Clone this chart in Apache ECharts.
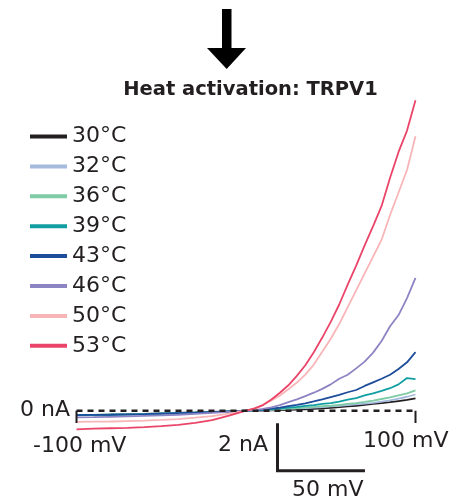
<!DOCTYPE html>
<html>
<head>
<meta charset="utf-8">
<script src="https://cdn.jsdelivr.net/npm/echarts@6/dist/echarts.min.js"></script>
<style>
  html, body { margin: 0; padding: 0; background: #fff; }
  #chart { width: 461px; height: 497px; }
</style>
</head>
<body>
<div id="chart"></div>
<script>
// voltage steps (mV)
const voltage = [-100, -90, -80, -70, -60, -50, -40, -30, -20, -10, 0,
  5, 10, 15, 20, 25, 30, 35, 40, 45, 50, 55, 60, 65, 70, 75, 80, 85, 90, 95, 100];

// current (nA) per temperature
const c30 = [-0.20, -0.19, -0.17, -0.16, -0.14, -0.12, -0.10, -0.08, -0.05, -0.03, 0,
  0.01, 0.01, 0.02, 0.03, 0.04, 0.05, 0.06, 0.08, 0.10, 0.13, 0.16, 0.19, 0.22, 0.26, 0.30, 0.34, 0.38, 0.43, 0.48, 0.55];
const c32 = [-0.20, -0.19, -0.18, -0.16, -0.14, -0.12, -0.10, -0.08, -0.06, -0.03, 0,
  0.01, 0.02, 0.04, 0.06, 0.08, 0.10, 0.12, 0.14, 0.16, 0.19, 0.22, 0.25, 0.28, 0.31, 0.35, 0.40, 0.46, 0.54, 0.62, 0.72];
const c36 = [-0.21, -0.20, -0.18, -0.16, -0.15, -0.13, -0.11, -0.08, -0.06, -0.03, 0,
  0.01, 0.03, 0.05, 0.07, 0.09, 0.12, 0.15, 0.17, 0.20, 0.22, 0.26, 0.30, 0.34, 0.39, 0.45, 0.52, 0.59, 0.68, 0.77, 0.90];
const c39 = [-0.20, -0.19, -0.18, -0.17, -0.15, -0.13, -0.11, -0.09, -0.06, -0.03, 0,
  0.02, 0.04, 0.07, 0.10, 0.14, 0.17, 0.21, 0.25, 0.30, 0.34, 0.40, 0.49, 0.56, 0.68, 0.77, 0.88, 1.00, 1.17, 1.45, 1.40];
const c43 = [-0.20, -0.19, -0.18, -0.16, -0.15, -0.13, -0.11, -0.09, -0.06, -0.03, 0,
  0.02, 0.05, 0.09, 0.14, 0.20, 0.26, 0.33, 0.41, 0.50, 0.60, 0.70, 0.82, 0.92, 1.10, 1.26, 1.42, 1.60, 1.85, 2.15, 2.60];
const c46 = [-0.30, -0.29, -0.27, -0.25, -0.23, -0.21, -0.18, -0.14, -0.10, -0.05, 0,
  0.03, 0.08, 0.15, 0.25, 0.38, 0.50, 0.65, 0.80, 0.97, 1.17, 1.42, 1.60, 1.88, 2.18, 2.58, 3.10, 3.75, 4.25, 5.00, 5.90];
const c50 = [-0.50, -0.49, -0.48, -0.46, -0.44, -0.41, -0.37, -0.31, -0.24, -0.13, 0,
  0.08, 0.25, 0.45, 0.68, 0.95, 1.25, 1.60, 2.05, 2.62, 3.20, 3.85, 4.60, 5.35, 6.10, 6.85, 7.60, 8.70, 9.70, 10.70, 12.20];
const c53 = [-0.83, -0.80, -0.78, -0.76, -0.73, -0.69, -0.63, -0.54, -0.42, -0.22, 0,
  0.10, 0.25, 0.50, 0.80, 1.13, 1.55, 2.02, 2.60, 3.25, 3.95, 4.72, 5.60, 6.45, 7.35, 8.20, 9.10, 10.35, 11.50, 12.45, 13.80];

const tempNames = ['30°C', '32°C', '36°C', '39°C', '43°C', '46°C', '50°C', '53°C'];
const tempCurves = [c30, c32, c36, c39, c43, c46, c50, c53];
const tempColors = ['#231f20', '#a4bbde', '#7ecba5', '#109ea2', '#1d4c9b', '#8d85c3', '#f8b5b7', '#ea4469'];

// zero-current reference, end ticks and scale bar (mV, nA)
const zeroX = [-100, 100];
const zeroY = [0, 0];
const tickLen = -0.55;
const barX = [18.6, 18.6, 69.3];
const barY = [-0.62, -2.67, -2.67];

const font = 'DejaVu Sans';
const ink = '#231f20';

const pairs = (xs, ys) => xs.map((x, i) => [x, ys[i]]);

const series = tempNames.map((name, i) => ({
  name: name,
  type: 'line',
  data: pairs(voltage, tempCurves[i]),
  showSymbol: false,
  smooth: false,
  lineStyle: { color: tempColors[i], width: 1.8 },
  itemStyle: { color: tempColors[i] },
  z: 3
}));

series.push({
  name: 'zero',
  type: 'line',
  data: pairs(zeroX, zeroY),
  showSymbol: false,
  lineStyle: { color: ink, width: 2.5, type: [6, 5] },
  z: 4
});
zeroX.forEach(x => {
  series.push({
    name: 'tick',
    type: 'line',
    data: [[x, 0], [x, tickLen]],
    showSymbol: false,
    lineStyle: { color: ink, width: 2 },
    z: 4
  });
});
series.push({
  name: 'bar',
  type: 'line',
  data: pairs(barX, barY),
  showSymbol: false,
  lineStyle: { color: ink, width: 3, cap: 'square', join: 'miter' },
  z: 4
});

const chart = echarts.init(document.getElementById('chart'));

const txt = (x, y, text, align) => ({
  type: 'text', x: x, y: y,
  style: { text: text, font: '22px "' + font + '"', fill: ink, textAlign: align, textVerticalAlign: 'middle' }
});

chart.setOption({
  animation: false,
  grid: { left: 76.5, width: 339, top: 73.2, height: 405 },
  xAxis: { type: 'value', min: -100, max: 100, show: false },
  yAxis: { type: 'value', min: -3, max: 15, show: false },
  legend: {
    data: tempNames,
    orient: 'vertical',
    left: 25,
    top: 120.5,
    icon: 'rect',
    itemWidth: 37,
    itemHeight: 4,
    itemGap: 7.9,
    textStyle: { fontFamily: font, fontSize: 22, lineHeight: 22, color: ink }
  },
  graphic: [
    { type: 'rect', shape: { x: 222, y: 9, width: 9.5, height: 41 }, style: { fill: '#000' } },
    { type: 'polygon', shape: { points: [[207, 48], [246, 48], [226.7, 69]] }, style: { fill: '#000' } },
    {
      type: 'text', x: 250.5, y: 90,
      style: { text: 'Heat activation: TRPV1', font: 'bold 19.5px "' + font + '"', fill: ink, textAlign: 'center', textVerticalAlign: 'middle' }
    },
    txt(70, 410, '0 nA', 'right'),
    txt(33, 446, '-100 mV', 'left'),
    txt(268, 445.5, '2 nA', 'right'),
    txt(363, 441, '100 mV', 'left'),
    txt(292, 490, '50 mV', 'left')
  ],
  series: series
});
</script>
</body>
</html>
